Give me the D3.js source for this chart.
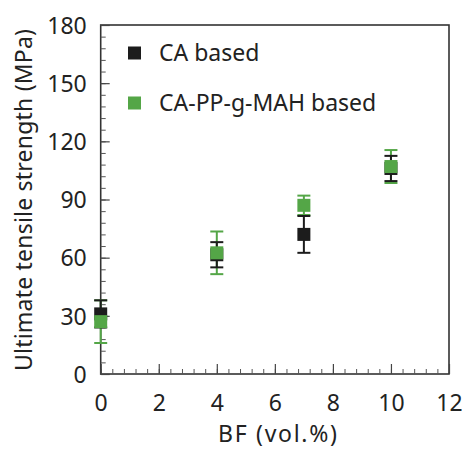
<!DOCTYPE html>
<html><head><meta charset="utf-8">
<script src="https://cdn.jsdelivr.net/npm/d3@7"></script>
<style>body{margin:0;background:#fff}svg{display:block}text{font-family:"Noto Sans","Open Sans",sans-serif;fill:#222}</style>
</head><body>
<svg id="c" width="462" height="450"></svg>
<script>
const bf = [0, 4, 7, 10];
const caMean = [31, 61.5, 72, 106];
const caErr = [7, 6.5, 9.5, 6.5];
const mahMean = [27, 62.5, 87, 107];
const mahErr = [11, 11, 5, 8.5];
const xTicks = [0, 2, 4, 6, 8, 10, 12];
const yTicks = [0, 30, 60, 90, 120, 150, 180];
const seriesNames = ["CA based", "CA-PP-g-MAH based"];
const colors = ["#1c1c1c", "#54a647"];

const svg = d3.select("#c");
const L = 100.7, R = 449, T = 25, B = 374;
const x = d3.scaleLinear().domain([0, 12]).range([L, R]);
const y = d3.scaleLinear().domain([0, 180]).range([B, T]);
const FS = 23;

// frame
svg.append("rect").attr("x", L).attr("y", T).attr("width", R - L).attr("height", B - T)
  .attr("fill", "none").attr("stroke", "#333").attr("stroke-width", 1.6);

// x axis ticks (inward)
const xMinor = d3.range(0, 12.001, 0.4);
svg.append("g").attr("transform", `translate(0,${B})`)
  .call(d3.axisBottom(x).tickValues(xMinor).tickSize(-5).tickFormat(""))
  .call(g => g.select(".domain").remove())
  .call(g => g.selectAll("line").attr("stroke", "#555").attr("stroke-width", 1));
svg.append("g").attr("transform", `translate(0,${B})`)
  .call(d3.axisBottom(x).tickValues(xTicks).tickSize(-10).tickPadding(0).tickFormat(d3.format("d")))
  .call(g => g.select(".domain").remove())
  .call(g => g.selectAll("line").attr("stroke", "#444").attr("stroke-width", 1.2))
  .call(g => g.selectAll("text").attr("font-size", FS).attr("dy", 0).attr("y", 36.5).attr("fill", "#222"));

// y axis ticks (inward)
const yMinor = d3.range(0, 180.001, 6);
svg.append("g").attr("transform", `translate(${L},0)`)
  .call(d3.axisLeft(y).tickValues(yMinor).tickSize(-5).tickFormat(""))
  .call(g => g.select(".domain").remove())
  .call(g => g.selectAll("line").attr("stroke", "#555").attr("stroke-width", 1));
svg.append("g").attr("transform", `translate(${L},0)`)
  .call(d3.axisLeft(y).tickValues(yTicks).tickSize(-9).tickFormat(d3.format("d")))
  .call(g => g.select(".domain").remove())
  .call(g => g.selectAll("text").attr("font-size", FS).attr("x", -14).attr("dy", "0.36em").attr("fill", "#222"))
  .call(g => g.selectAll("line").attr("stroke", "#444").attr("stroke-width", 1.2));

// labels
svg.append("text").attr("x", 277.5).attr("y", 442).attr("text-anchor", "middle")
  .attr("font-size", FS).attr("textLength", 119).text("BF (vol.%)");
svg.append("text").attr("transform", `translate(32,200) rotate(-90)`)
  .attr("text-anchor", "middle").attr("font-size", FS).attr("textLength", 342).text("Ultimate tensile strength (MPa)");

const data = [
  bf.map((v, i) => ({ x: v, m: mahMean[i], e: mahErr[i] })),
  bf.map((v, i) => ({ x: v, m: caMean[i], e: caErr[i] }))
];
const cols = [colors[1], colors[0]];
const cap = 6.5, sq = 13;

// error bars: green first, then black
data.forEach((d, k) => {
  const g = svg.append("g").attr("stroke", cols[k]).attr("stroke-width", 2);
  g.selectAll(".v").data(d).join("line")
    .attr("x1", p => x(p.x)).attr("x2", p => x(p.x))
    .attr("y1", p => y(p.m - p.e)).attr("y2", p => y(p.m + p.e));
  g.selectAll(".t").data(d).join("line")
    .attr("x1", p => x(p.x) - cap).attr("x2", p => x(p.x) + cap)
    .attr("y1", p => y(p.m + p.e)).attr("y2", p => y(p.m + p.e));
  g.selectAll(".b").data(d).join("line")
    .attr("x1", p => x(p.x) - cap).attr("x2", p => x(p.x) + cap)
    .attr("y1", p => y(p.m - p.e)).attr("y2", p => y(p.m - p.e));
});
// squares: black, then green
[1, 0].forEach(k => {
  svg.append("g").selectAll("rect").data(data[k]).join("rect")
    .attr("x", p => x(p.x) - sq / 2).attr("y", p => y(p.m) - sq / 2)
    .attr("width", sq).attr("height", sq).attr("fill", cols[k]);
});

// legend
const leg = [{ n: seriesNames[0], c: colors[0], y: 53 }, { n: seriesNames[1], c: colors[1], y: 103 }];
leg.forEach(l => {
  svg.append("rect").attr("x", 128).attr("y", l.y - 6.5).attr("width", 13).attr("height", 13).attr("fill", l.c);
  svg.append("text").attr("x", 159).attr("y", l.y + 7.5).attr("font-size", FS).text(l.n);
});
</script>
</body></html>
